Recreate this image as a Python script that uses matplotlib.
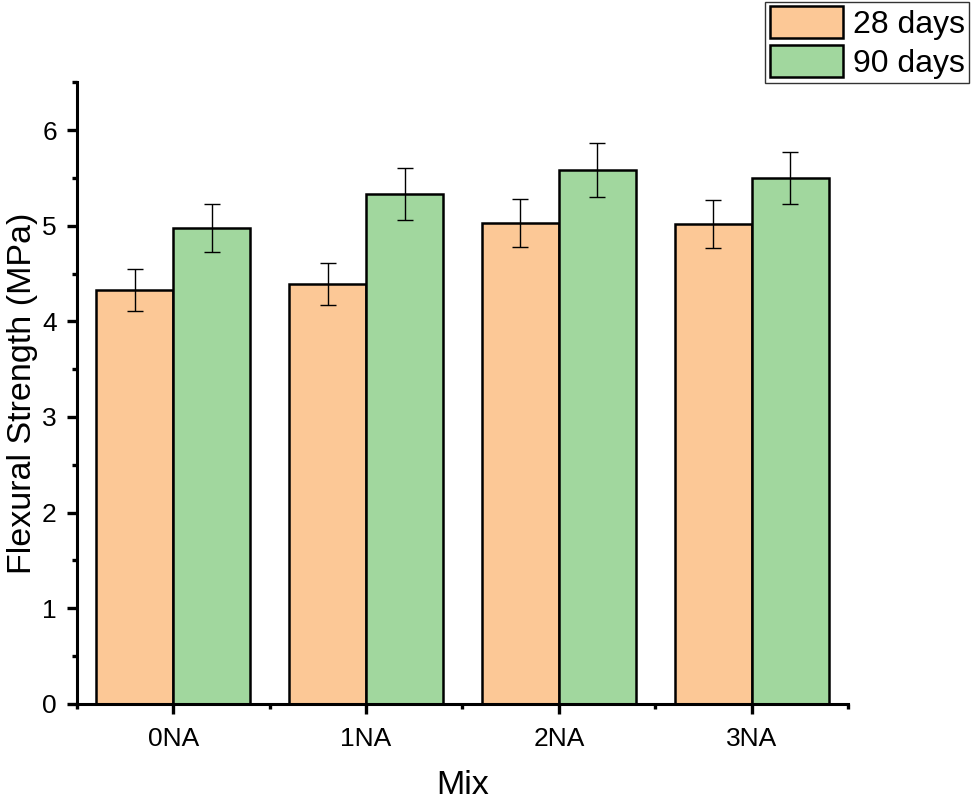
import matplotlib
matplotlib.use("Agg")
import matplotlib.pyplot as plt
import numpy as np
from matplotlib.ticker import MultipleLocator

plt.rcParams['font.family'] = ['Liberation Sans', 'DejaVu Sans']

# data
mixes = ["0NA", "1NA", "2NA", "3NA"]
days28 = [4.33, 4.39, 5.03, 5.02]
days28_err = [0.22, 0.22, 0.25, 0.25]
days90 = [4.98, 5.33, 5.58, 5.50]
days90_err = [0.25, 0.27, 0.28, 0.27]

fig = plt.figure(figsize=(9.71, 8.06), dpi=100)
ax = fig.add_axes([0.0793, 0.1266, 0.794, 0.7714])

x = np.arange(len(mixes))
w = 0.4
err_style = dict(ecolor="black", elinewidth=1.0, capsize=6, capthick=1.0)

ax.bar(x - w / 2, days28, w, color="#FCC896", edgecolor="black", linewidth=1.8,
       yerr=days28_err, error_kw=err_style, label="28 days")
ax.bar(x + w / 2, days90, w, color="#A1D79E", edgecolor="black", linewidth=1.8,
       yerr=days90_err, error_kw=err_style, label="90 days")

ax.set_xlim(-0.5, 3.5)
ax.set_ylim(0, 6.5)
ax.set_xticks(x)
ax.set_xticklabels(mixes)
ax.xaxis.set_minor_locator(MultipleLocator(0.5))
ax.yaxis.set_major_locator(MultipleLocator(1))
ax.yaxis.set_minor_locator(MultipleLocator(0.5))

for s in ["top", "right"]:
    ax.spines[s].set_visible(False)
for s in ["left", "bottom"]:
    ax.spines[s].set_linewidth(2.2)

ax.tick_params(which="major", direction="out", length=7.5, width=2.4, labelsize=19)
ax.tick_params(axis="x", which="major", pad=9)
ax.tick_params(axis="y", which="major", pad=7)
ax.tick_params(which="minor", direction="out", length=3.5, width=2.4)

ax.set_xlabel("Mix", fontsize=24.5, labelpad=14)
ax.set_ylabel("Flexural Strength (MPa)", fontsize=24.5, labelpad=3)

leg = fig.legend(loc="upper right", bbox_to_anchor=(1.0, 1.0), fontsize=23,
                 frameon=True, fancybox=False, edgecolor="black",
                 handlelength=2.3, handleheight=1.15, labelspacing=0.15,
                 handletextpad=0.3, borderpad=0.15, borderaxespad=0.05)
leg.get_frame().set_linewidth(1.0)

plt.savefig("out.png", dpi=100)
